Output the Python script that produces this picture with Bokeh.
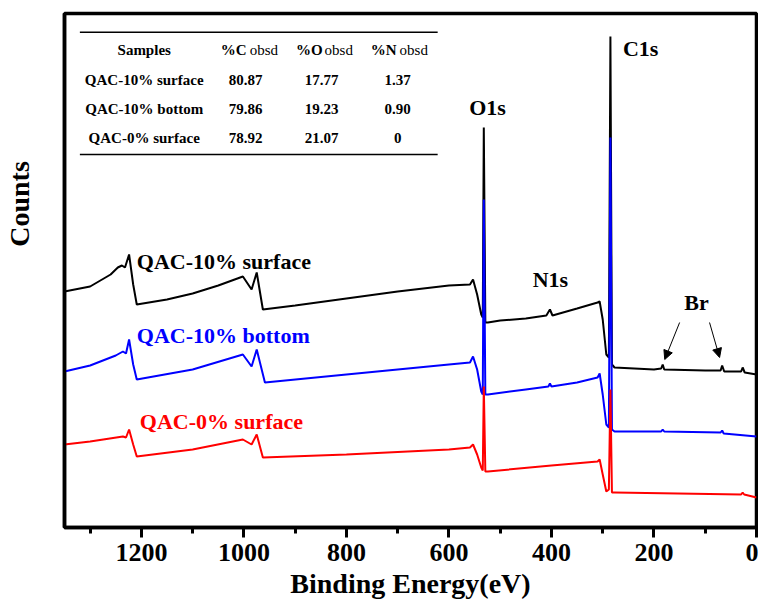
from bokeh.plotting import figure
from bokeh.models import Range1d, FixedTicker, Label, Arrow, NormalHead
from bokeh.core.properties import value
from bokeh.embed import file_html
from bokeh.resources import INLINE

# ---- data (binding energy in eV, counts in arbitrary units) ----
ev_surf10 = [1350, 1300, 1260, 1246, 1238, 1232, 1224, 1216, 1209, 1150, 1100, 1050, 1002, 985, 975, 963,
             900, 800, 700, 600, 559, 553, 545, 537, 534, 532, 529, 524, 500, 450, 410, 403, 398, 350,
             310, 306, 300, 293, 288, 285, 282, 277, 200, 186, 183, 180, 100, 70, 67, 63, 30, 27, 23, 0]
cnt_surf10 = [236, 241, 253, 260, 262, 260, 273, 243, 223, 228, 234, 242, 251, 238, 255, 218,
              222, 229, 236, 242, 243, 248, 233, 213, 210, 400, 205, 205, 207, 209, 212, 218, 212, 219,
              225, 226, 208, 173, 170, 491, 163, 160, 158, 159, 163, 158, 157, 157, 162, 156, 156, 160, 155, 153]

ev_bot10 = [1350, 1300, 1250, 1236, 1230, 1224, 1216, 1209, 1100, 1002, 985, 975, 959, 800, 600, 559, 553,
            545, 537, 534, 532, 529, 524, 450, 406, 403, 400, 350, 310, 306, 300, 293, 288, 285, 282,
            277, 186, 183, 180, 70, 67, 64, 0]
cnt_bot10 = [156, 162, 172, 176, 174, 188, 163, 148, 158, 173, 161, 178, 145, 153, 163, 165, 171,
             158, 136, 133, 328, 133, 133, 138, 141, 144, 141, 145, 150, 154, 133, 103, 100, 390, 98,
             96, 96, 98, 96, 95, 97, 94, 91]

ev_surf0 = [1350, 1300, 1236, 1230, 1224, 1216, 1209, 1100, 1002, 985, 975, 963, 800, 600, 559, 553,
            545, 537, 534, 532, 529, 524, 400, 310, 306, 300, 293, 288, 285, 282, 277, 30, 27, 24, 0]
cnt_surf0 = [83, 86, 91, 90, 98, 83, 71, 78, 88, 83, 93, 70, 73, 78, 80, 83,
             73, 60, 57, 141, 56, 56, 62, 66, 68, 53, 36, 38, 138, 35, 35, 33, 35, 33, 30]

x_ticks = [0, 200, 400, 600, 800, 1000, 1200]
x_minor = [100, 300, 500, 700, 900, 1100, 1300]

table_header = ["Samples", "%C", "%O", "%N"]
table_samples = ["QAC-10% surface", "QAC-10% bottom", "QAC-0% surface"]
table_C = ["80.87", "79.86", "78.92"]
table_O = ["17.77", "19.23", "21.07"]
table_N = ["1.37", "0.90", "0"]

SERIF = "Liberation Serif"
FONT = value(SERIF)

p = figure(frame_width=692, frame_height=514, x_range=Range1d(1350, 0), y_range=Range1d(0, 514),
           output_backend="svg", toolbar_location=None,
           min_border_left=63, min_border_right=2, min_border_top=13, min_border_bottom=10)
p.grid.visible = False
p.outline_line_color = "black"
p.outline_line_width = 3.5

# x axis
xa = p.xaxis[0]
xa.ticker = FixedTicker(ticks=x_ticks, minor_ticks=x_minor)
xa.axis_line_width = 3.5
xa.major_tick_line_width = 3
xa.minor_tick_line_width = 3
xa.major_tick_out = 10
xa.major_tick_in = 0
xa.minor_tick_out = 6
xa.minor_tick_in = 0
xa.major_label_text_font = SERIF
xa.major_label_text_font_style = "bold"
xa.major_label_text_font_size = "26px"
xa.major_label_text_color = "black"
xa.major_label_standoff = 6
xa.axis_label = "Binding Energy(eV)"
xa.axis_label_text_font = SERIF
xa.axis_label_text_font_style = "bold"
xa.axis_label_text_font_size = "28px"
xa.axis_label_text_color = "black"
xa.axis_label_standoff = 4

# y axis: title only; leading no-break spaces lift the word above the frame centre
ya = p.yaxis[0]
ya.ticker = FixedTicker(ticks=[])
ya.axis_line_width = 3.5
ya.axis_label = "\u00a0" * 19 + "Counts"
ya.axis_label_text_font = SERIF
ya.axis_label_text_font_style = "bold"
ya.axis_label_text_font_size = "28px"
ya.axis_label_text_color = "black"
ya.axis_label_standoff = 30

# spectra
p.line(ev_surf10, cnt_surf10, line_color="black", line_width=2)
p.line(ev_bot10, cnt_bot10, line_color="blue", line_width=2)
p.line(ev_surf0, cnt_surf0, line_color="red", line_width=2)

def lab(x, y, text, color="black", size="22px", align="left", style="bold"):
    p.add_layout(Label(x=x, y=y, text=text, text_color=color, text_font=SERIF,
                       text_font_style=style, text_font_size=size, text_align=align,
                       text_baseline="middle"))

lab(1209, 266, "QAC-10% surface", "black")
lab(1209, 192, "QAC-10% bottom", "blue")
lab(1203, 106, "QAC-0% surface", "red")
lab(524.6, 420, "O1s", align="center")
lab(226, 479, "C1s", align="center")
lab(402, 248, "N1s", align="center")
lab(117, 225, "Br", align="center")

p.add_layout(Arrow(x_start=150, y_start=205, x_end=179, y_end=168, line_width=1,
                   end=NormalHead(size=9, fill_color="black", line_color="black")))
p.add_layout(Arrow(x_start=91.6, y_start=205, x_end=72, y_end=170, line_width=1,
                   end=NormalHead(size=9, fill_color="black", line_color="black")))

# table
p.line([1320, 622], [495.3, 495.3], line_color="black", line_width=1.5)
p.line([1320, 622], [373, 373], line_color="black", line_width=1.5)
col_x = [1194.5, 996.5, 848.5, 700]
row_y = [448, 419, 390]
p.text(x=[col_x[0]], y=[478], text=[table_header[0]], text_font=FONT, text_font_style="bold",
       text_font_size="15px", text_align="center", text_baseline="middle")
p.text(x=[994.7, 846.5, 702], y=[478] * 3, text=table_header[1:], text_font=FONT,
       text_font_style="bold", text_font_size="15px", text_align="right", text_baseline="middle")
p.text(x=[988.8, 842.6, 696.3], y=[478] * 3, text=["obsd"] * 3, text_font=FONT,
       text_font_style="normal", text_font_size="15px", text_align="left", text_baseline="middle")
for col, vals in zip(col_x, [table_samples, table_C, table_O, table_N]):
    p.text(x=[col] * 3, y=row_y, text=vals, text_font=FONT, text_font_style="bold",
           text_font_size="15px", text_align="center", text_baseline="middle")

open("out.html", "w").write(file_html(p, INLINE))
